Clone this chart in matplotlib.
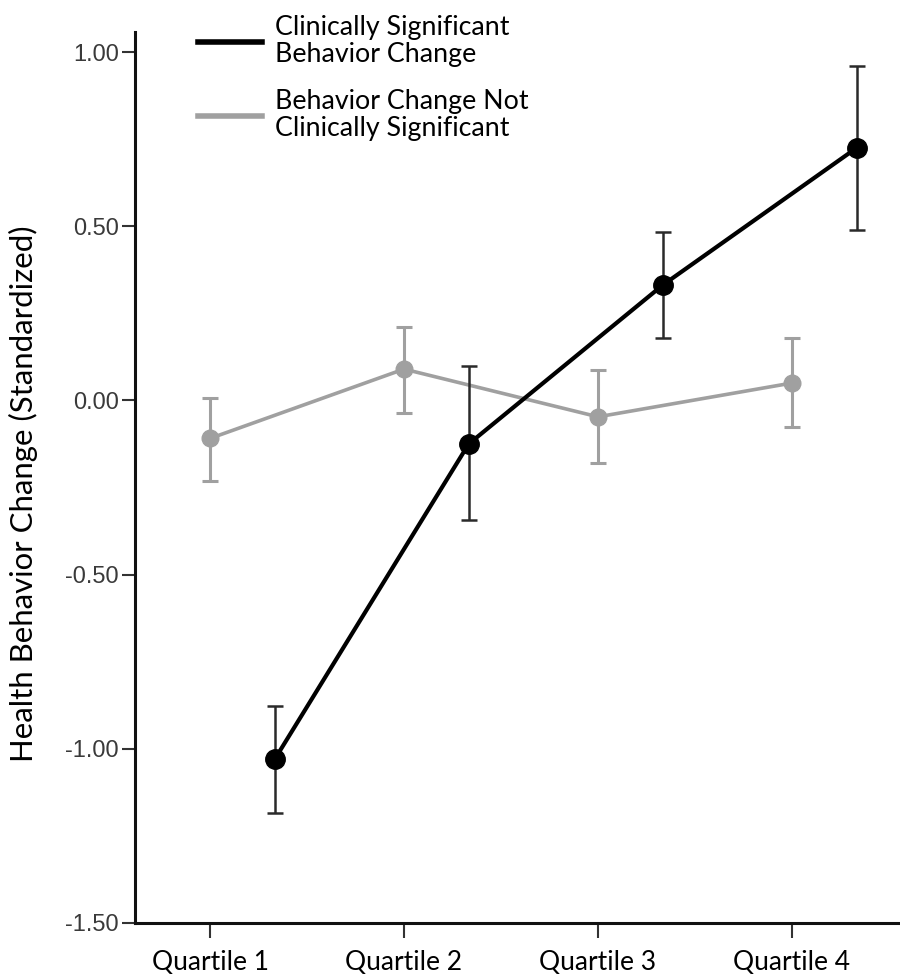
import numpy as np
import matplotlib
matplotlib.use('Agg')
import matplotlib.pyplot as plt

# data
quartiles = ['Quartile 1', 'Quartile 2', 'Quartile 3', 'Quartile 4']
sig_mean = [-1.03, -0.125, 0.331, 0.725]
sig_lo = [-1.184, -0.343, 0.179, 0.489]
sig_hi = [-0.876, 0.099, 0.484, 0.960]
nonsig_mean = [-0.109, 0.090, -0.047, 0.050]
nonsig_lo = [-0.231, -0.035, -0.180, -0.075]
nonsig_hi = [0.008, 0.212, 0.086, 0.179]
yticks = [-1.5, -1.0, -0.5, 0.0, 0.5, 1.0]

sig_label = 'Clinically Significant\nBehavior Change'
nonsig_label = 'Behavior Change Not\nClinically Significant'

BLACK = '#000000'
GRAY = '#a0a0a0'
SIG_SHIFT = 1 / 3  # black series sits right of the category tick

x = np.arange(1, len(quartiles) + 1)
xs = x + SIG_SHIFT

fig = plt.figure(figsize=(9, 9.77), dpi=100)
ax = fig.add_axes([0.15, 0.0553, 0.85, 0.9117])

sig_mean = np.array(sig_mean)
nonsig_mean = np.array(nonsig_mean)

# gray series
ax.errorbar(x, nonsig_mean,
            yerr=[nonsig_mean - np.array(nonsig_lo), np.array(nonsig_hi) - nonsig_mean],
            fmt='none', ecolor=GRAY, elinewidth=2.2, capsize=6, capthick=2.2, zorder=2)
ax.plot(x, nonsig_mean, color=GRAY, lw=2.6, marker='o', ms=12,
        mfc=GRAY, mec=GRAY, zorder=3, label=nonsig_label)

# black series
ax.errorbar(xs, sig_mean,
            yerr=[sig_mean - np.array(sig_lo), np.array(sig_hi) - sig_mean],
            fmt='none', ecolor='#2a2a2a', elinewidth=1.8, capsize=6, capthick=1.8, zorder=4)
ax.plot(xs, sig_mean, color=BLACK, lw=3.0, marker='o', ms=14,
        mfc=BLACK, mec=BLACK, zorder=5, label=sig_label)

ax.set_xlim(0.613, 4.557)
ax.set_ylim(-1.5, 1.057)
ax.set_xticks(x)
ax.set_xticklabels(quartiles, fontfamily='Lato', fontsize=19)
ax.set_yticks(yticks)
ax.set_yticklabels(['%.2f' % v for v in yticks], fontfamily='Liberation Sans',
                   fontsize=17, color='#3a3a3a')

for side in ['top', 'right']:
    ax.spines[side].set_visible(False)
for side in ['left', 'bottom']:
    ax.spines[side].set_linewidth(2.2)
    ax.spines[side].set_color('#111111')

ax.tick_params(axis='y', length=9.5, width=1.5, color='#333333', pad=2)
ax.tick_params(axis='x', length=10.5, width=1.5, color='#333333', pad=9)

fig.text(0.026, 1 - 494 / 977, 'Health Behavior Change (Standardized)',
         rotation=90, ha='center', va='center', fontfamily='Lato', fontsize=22.4)

h, l = ax.get_legend_handles_labels()
leg = ax.legend(h[::-1], l[::-1], loc='upper left', bbox_to_anchor=(198 / 900, 1 - 15 / 977),
                bbox_transform=fig.transFigure, frameon=False,
                prop={'family': 'Lato', 'size': 19.3}, handlelength=2.38,
                handletextpad=0.49, labelspacing=0.82, borderpad=0, borderaxespad=0,
                numpoints=1)
for line in leg.get_lines():
    line.set_marker('')
    line.set_linewidth(4)
for t in leg.get_texts():
    t.set_linespacing(1.1)

fig.savefig('out.png', dpi=100)
